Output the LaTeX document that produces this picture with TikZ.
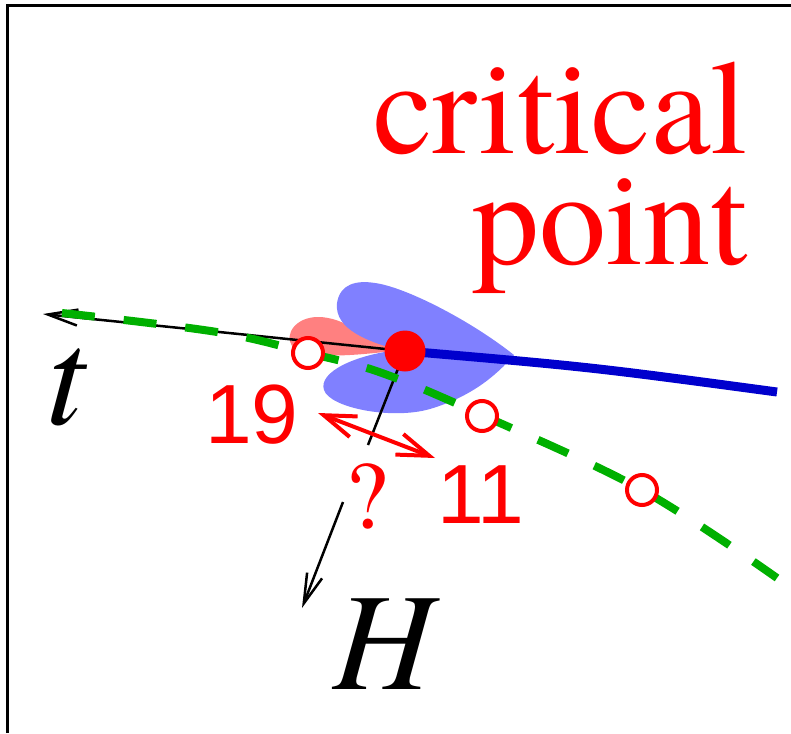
\documentclass[tikz,border=0pt]{standalone}
\usepackage{fontspec}
\newfontfamily\serifr{texgyretermes}[Extension=.otf, UprightFont=*-regular, ItalicFont=*-italic]
\newfontfamily\sansf{Liberation Sans}
\usetikzlibrary{arrows.meta}
\definecolor{lobeblue}{RGB}{128,128,255}
\definecolor{lobepink}{RGB}{255,128,128}
\definecolor{lineblue}{RGB}{0,0,205}
\definecolor{dashgreen}{RGB}{0,176,0}
\tikzset{
  frameline/.style={line width=3pt},
  axisline/.style={line width=2.5pt, -{Straight Barb[length=30pt,width=16pt,line width=2.5pt]}},
  twohead/.style={red, line width=4pt, {Straight Barb[length=32pt,width=22pt,line width=4pt]}-{Straight Barb[length=32pt,width=22pt,line width=4pt]}},
  greendash/.style={dashgreen, line width=8pt, dash pattern=on 33pt off 29pt},
  thickblue/.style={lineblue, line width=9pt},
  marker/.style={circle, draw=red, line width=4pt, fill=white, minimum size=30pt, inner sep=0pt},
  cpdot/.style={circle, fill=red, minimum size=41pt, inner sep=0pt},
  bigserif/.style={red, inner sep=0pt, font=\serifr\fontsize{134}{117}\selectfont},
  numlabel/.style={red, inner sep=0pt, font=\sansf\fontsize{84}{84}\selectfont},
  varlabel/.style={black, inner sep=0pt, font=\serifr\itshape\fontsize{139}{139}\selectfont},
}
\begin{document}
\begin{tikzpicture}[x=1pt,y=-1pt]
\useasboundingbox (0,0) rectangle (791,733);
% frame
\draw[frameline] (7.5,733) -- (7.5,5.3) -- (791,5.3);
% key coordinates
\coordinate (c) at (405,351);
\coordinate (ttip) at (43,314);
\coordinate (q1) at (368,445);
\coordinate (q2) at (343,502);
\coordinate (htip) at (302,608);
\coordinate (r1) at (318,413);
\coordinate (r2) at (435,458);
\coordinate (bend) at (777,392);
% lobes
\fill[lobepink] (400,350) .. controls (365,338) and (345,317) .. (318,317)
  .. controls (296,317) and (284,334) .. (292,346)
  .. controls (302,360) and (355,356) .. (400,350) -- cycle;
\fill[lobeblue] (398,350) .. controls (370,342) and (334,330) .. (337,303)
  .. controls (340,284) and (356,280) .. (375,283)
  .. controls (405,287) and (470,320) .. (514,355)
  .. controls (495,377) and (470,397) .. (430,409)
  .. controls (392,420) and (330,408) .. (324,390)
  .. controls (318,372) and (355,355) .. (398,350) -- cycle;
% axes
\draw[axisline] (c) -- (ttip);
\draw[line width=2.5pt] (c) -- (q1);
\draw[axisline] (q2) -- (htip);
% blue line
\draw[thickblue] (c) .. controls (591,367) .. (bend);
% green dashed curve
\draw[greendash] plot[smooth, tension=0.6] coordinates {(62,313) (217,332) (308,353) (382,373) (482,415) (642,490) (777,578)};
% markers
\node[marker] (m1) at (308,353) {};
\node[marker] (m2) at (482,416) {};
\node[marker] (m3) at (642,490) {};
\node[cpdot] (cp) at (c) {};
% red double arrow
\draw[twohead] (r1) -- (r2);
% labels
\node[bigserif, anchor=base east] (crit) at (748,153)
  {\begin{tabular}[t]{@{}r@{}}critical\\[-9.6pt]point\end{tabular}};
\node[numlabel, anchor=base] (n19) at (252,443) {19};
\node[numlabel, anchor=base] (n11) at (481,523) {11};
\node[red, inner sep=0pt, font=\serifr\fontsize{96}{96}\selectfont, anchor=base] (qm) at (367,528) {?};
\node[varlabel, anchor=base] (tl) at (66,424) {t};
\node[varlabel, anchor=base] (hl) at (384,689) {H};
\end{tikzpicture}
\end{document}
